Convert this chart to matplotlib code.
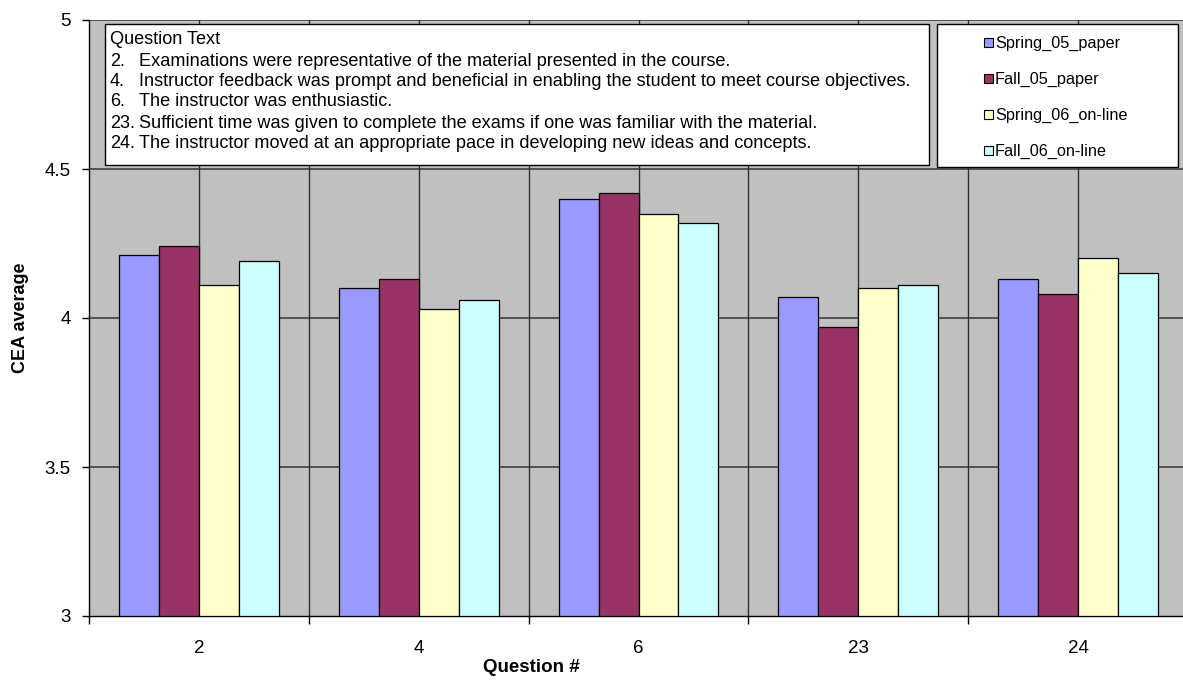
"""CEA averages per question, paper vs on-line semesters"""
import matplotlib
matplotlib.use('Agg')
import matplotlib.pyplot as plt
from matplotlib.patches import Rectangle
import numpy as np

W, H = 1183, 683

# Data
questions = ['2', '4', '6', '23', '24']
series_names = ['Spring_05_paper', 'Fall_05_paper', 'Spring_06_on-line', 'Fall_06_on-line']
spring_05_paper = [4.21, 4.10, 4.40, 4.07, 4.13]
fall_05_paper = [4.24, 4.13, 4.42, 3.97, 4.08]
spring_06_online = [4.11, 4.03, 4.35, 4.10, 4.20]
fall_06_online = [4.19, 4.06, 4.32, 4.11, 4.15]
question_nums = ['2.', '4.', '6.', '23.', '24.']
question_texts = [
    'Examinations were representative of the material presented in the course.',
    'Instructor feedback was prompt and beneficial in enabling the student to meet course objectives.',
    'The instructor was enthusiastic.',
    'Sufficient time was given to complete the exams if one was familiar with the material.',
    'The instructor moved at an appropriate pace in developing new ideas and concepts.',
]

colors = ['#9999FF', '#993366', '#FFFFCC', '#CCFFFF']
plt.rcParams['font.family'] = ['Liberation Sans', 'DejaVu Sans']


def fx(x):
    return x / W


def fy(y):
    return 1 - y / H


fig = plt.figure(figsize=(W / 100, H / 100), dpi=100)
ax = fig.add_axes([fx(89), fy(616), (1188 - 89) / W, (616 - 20) / H])
ax.set_facecolor('#C0C0C0')

x = np.arange(len(questions))
bar_w = 40 / 220
all_series = [spring_05_paper, fall_05_paper, spring_06_online, fall_06_online]
for i, (vals, name, c) in enumerate(zip(all_series, series_names, colors)):
    ax.bar(x + (i - 1.5) * bar_w, np.array(vals) - 3, bottom=3, width=bar_w,
           color=c, edgecolor='black', linewidth=0.9, label=name, zorder=3)

ax.set_ylim(3, 5)
ax.set_xlim(-0.5, 4.5)
ax.set_yticks([3, 3.5, 4, 4.5, 5])
ax.set_yticklabels(['3', '3.5', '4', '4.5', '5'], fontsize=13.5)

# gridlines: horizontal at each major tick, vertical at every half category
for yv in [3.5, 4, 4.5, 5]:
    ax.axhline(yv, color='#404040', linewidth=1.2, zorder=1)
for xv in np.arange(0, 4.6, 0.5):
    ax.axvline(xv, color='#303030', linewidth=1.0, zorder=1)

# category ticks at boundaries, labels at centers
ax.set_xticks(np.arange(-0.5, 4.6, 1))
ax.set_xticklabels([])
ax.set_xticks(x, minor=True)
ax.set_xticklabels(questions, minor=True, fontsize=13.5)
ax.tick_params(axis='x', which='major', length=6, width=1, direction='out')
ax.tick_params(axis='x', which='minor', length=0, pad=17)
ax.tick_params(axis='y', length=5, width=1, direction='out', pad=8)

for side in ['top', 'right']:
    ax.spines[side].set_visible(False)
ax.spines['left'].set_linewidth(1.0)
ax.spines['bottom'].set_linewidth(1.0)

fig.text(fx(21), fy(318), 'CEA average', rotation=90, ha='center', va='center',
         fontsize=13, fontweight='bold')
fig.text(fx(531), fy(668), 'Question #', ha='center', va='center',
         fontsize=13.5, fontweight='bold')

# question text box
fig.patches.append(Rectangle((fx(105), fy(165)), (929 - 105) / W, (165 - 24) / H,
                             transform=fig.transFigure, facecolor='white',
                             edgecolor='black', linewidth=1.0, zorder=5))
fig.text(fx(110), fy(39), 'Question Text', ha='left', va='center', fontsize=13.1, zorder=6)
line_y = [61, 81, 102, 123, 143]
for num, txt, yy in zip(question_nums, question_texts, line_y):
    fig.text(fx(110), fy(yy), num, ha='left', va='center', fontsize=13.1, zorder=6)
    fig.text(fx(139), fy(yy), txt, ha='left', va='center', fontsize=13.1, zorder=6)

# legend box
fig.patches.append(Rectangle((fx(937), fy(167)), (1178 - 937) / W, (167 - 24) / H,
                             transform=fig.transFigure, facecolor='white',
                             edgecolor='black', linewidth=1.0, zorder=5))
leg_y = [43, 79, 115, 151]
for name, c, yy in zip(series_names, colors, leg_y):
    fig.patches.append(Rectangle((fx(984), fy(yy + 4)), 9 / W, 9 / H,
                                 transform=fig.transFigure, facecolor=c,
                                 edgecolor='black', linewidth=0.8, zorder=6))
    fig.text(fx(995), fy(yy), name, ha='left', va='center', fontsize=11.7, zorder=6)

fig.savefig('out.png', dpi=100, facecolor='white')
